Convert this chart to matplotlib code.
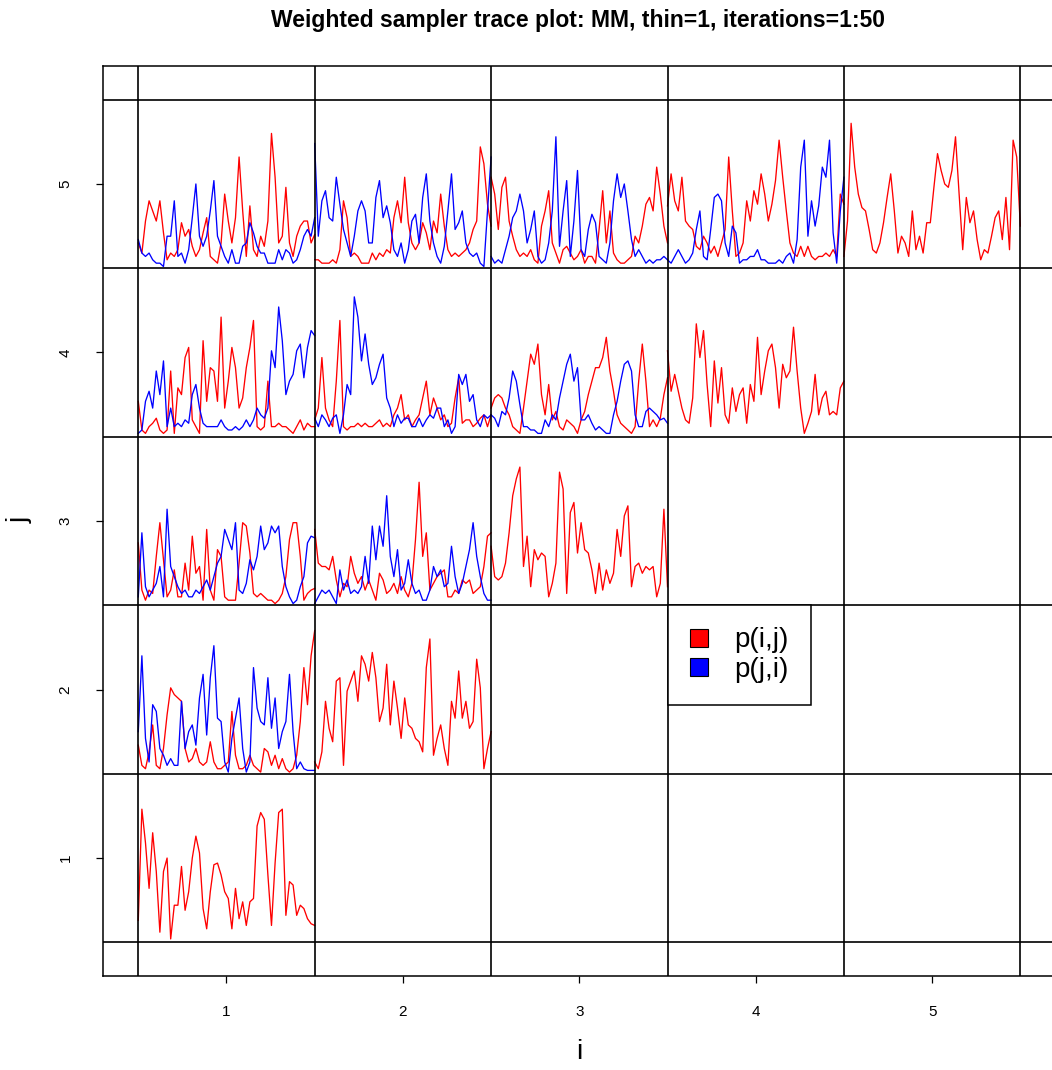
import matplotlib
matplotlib.use("Agg")
import matplotlib.pyplot as plt
from matplotlib.patches import Patch
import numpy as np

plt.rcParams['font.family'] = ['Liberation Sans', 'DejaVu Sans']

# --- data: 50 iterations per trace, value = height inside the cell (0..1)
# diagonal cells, p(i,i)
red_1_1 = [0.13, 0.79, 0.59, 0.32, 0.65, 0.42, 0.06, 0.42, 0.50, 0.02, 0.22, 0.22, 0.45, 0.19, 0.30, 0.50, 0.63,
           0.53, 0.20, 0.08, 0.30, 0.46, 0.47, 0.40, 0.30, 0.26, 0.08, 0.32, 0.14, 0.24, 0.10, 0.24, 0.26, 0.69,
           0.77, 0.73, 0.40, 0.10, 0.47, 0.77, 0.79, 0.16, 0.36, 0.34, 0.16, 0.22, 0.20, 0.14, 0.11, 0.10]
red_2_2 = [0.07, 0.03, 0.13, 0.43, 0.27, 0.19, 0.55, 0.57, 0.05, 0.49, 0.55, 0.61, 0.43, 0.70, 0.65, 0.55, 0.72,
           0.57, 0.31, 0.39, 0.65, 0.29, 0.55, 0.39, 0.21, 0.45, 0.29, 0.27, 0.21, 0.19, 0.13, 0.63, 0.80, 0.11,
           0.21, 0.29, 0.15, 0.05, 0.43, 0.33, 0.61, 0.33, 0.43, 0.27, 0.31, 0.68, 0.51, 0.03, 0.15, 0.25]
red_3_3 = [0.35, 0.17, 0.15, 0.17, 0.25, 0.43, 0.65, 0.75, 0.82, 0.23, 0.41, 0.11, 0.33, 0.27, 0.31, 0.29, 0.05,
           0.13, 0.25, 0.79, 0.69, 0.07, 0.55, 0.61, 0.31, 0.49, 0.33, 0.31, 0.21, 0.07, 0.25, 0.09, 0.21, 0.13,
           0.19, 0.45, 0.29, 0.53, 0.59, 0.11, 0.23, 0.25, 0.19, 0.23, 0.21, 0.23, 0.05, 0.13, 0.57, 0.11]
red_4_4 = [0.51, 0.27, 0.37, 0.27, 0.17, 0.10, 0.08, 0.23, 0.67, 0.47, 0.63, 0.31, 0.06, 0.45, 0.20, 0.41, 0.13,
           0.08, 0.29, 0.15, 0.25, 0.29, 0.08, 0.31, 0.21, 0.59, 0.25, 0.39, 0.51, 0.55, 0.41, 0.17, 0.43, 0.35,
           0.39, 0.65, 0.39, 0.17, 0.02, 0.08, 0.15, 0.37, 0.13, 0.23, 0.27, 0.13, 0.15, 0.13, 0.29, 0.33]
red_5_5 = [0.07, 0.28, 0.86, 0.60, 0.44, 0.36, 0.34, 0.23, 0.11, 0.09, 0.15, 0.27, 0.42, 0.56, 0.34, 0.09, 0.19,
           0.15, 0.07, 0.34, 0.11, 0.19, 0.09, 0.27, 0.27, 0.48, 0.68, 0.58, 0.50, 0.48, 0.58, 0.78, 0.44, 0.11,
           0.42, 0.27, 0.34, 0.17, 0.05, 0.11, 0.09, 0.19, 0.30, 0.34, 0.17, 0.42, 0.11, 0.76, 0.66, 0.25]

# off-diagonal cells: red = p(i,j), blue = p(j,i)
red_1_2 = [0.17, 0.05, 0.03, 0.13, 0.29, 0.05, 0.03, 0.15, 0.35, 0.51, 0.47, 0.45, 0.43, 0.15, 0.07, 0.09, 0.15,
           0.07, 0.05, 0.07, 0.19, 0.07, 0.03, 0.03, 0.05, 0.07, 0.37, 0.11, 0.03, 0.03, 0.05, 0.11, 0.05, 0.03,
           0.01, 0.15, 0.13, 0.05, 0.11, 0.03, 0.09, 0.03, 0.01, 0.03, 0.11, 0.31, 0.63, 0.41, 0.70, 0.85]
blue_1_2 = [0.25, 0.70, 0.21, 0.07, 0.41, 0.37, 0.15, 0.11, 0.05, 0.09, 0.05, 0.05, 0.43, 0.15, 0.25, 0.29, 0.17,
            0.45, 0.59, 0.23, 0.57, 0.76, 0.33, 0.31, 0.07, 0.01, 0.21, 0.33, 0.45, 0.15, 0.01, 0.07, 0.63, 0.39,
            0.31, 0.29, 0.57, 0.27, 0.45, 0.15, 0.25, 0.31, 0.59, 0.25, 0.03, 0.07, 0.03, 0.02, 0.02, 0.02]
red_1_3 = [0.37, 0.09, 0.03, 0.09, 0.07, 0.29, 0.49, 0.27, 0.05, 0.09, 0.21, 0.05, 0.05, 0.25, 0.09, 0.41, 0.19,
           0.23, 0.03, 0.45, 0.09, 0.03, 0.33, 0.29, 0.05, 0.03, 0.03, 0.03, 0.25, 0.49, 0.47, 0.31, 0.07, 0.05,
           0.07, 0.05, 0.03, 0.03, 0.01, 0.03, 0.07, 0.17, 0.39, 0.49, 0.49, 0.29, 0.03, 0.07, 0.09, 0.10]
blue_1_3 = [0.05, 0.43, 0.11, 0.05, 0.09, 0.13, 0.23, 0.05, 0.57, 0.23, 0.17, 0.11, 0.07, 0.09, 0.05, 0.05, 0.09,
            0.07, 0.11, 0.15, 0.09, 0.17, 0.25, 0.29, 0.45, 0.39, 0.33, 0.49, 0.09, 0.07, 0.13, 0.27, 0.21, 0.29,
            0.47, 0.33, 0.37, 0.47, 0.43, 0.47, 0.23, 0.11, 0.05, 0.01, 0.03, 0.11, 0.17, 0.37, 0.41, 0.40]
red_2_3 = [0.45, 0.25, 0.23, 0.23, 0.21, 0.29, 0.15, 0.05, 0.13, 0.11, 0.29, 0.19, 0.13, 0.17, 0.09, 0.15, 0.09,
           0.03, 0.19, 0.15, 0.07, 0.09, 0.13, 0.07, 0.17, 0.09, 0.05, 0.13, 0.39, 0.73, 0.29, 0.43, 0.09, 0.13,
           0.17, 0.19, 0.21, 0.05, 0.05, 0.09, 0.07, 0.15, 0.13, 0.15, 0.07, 0.09, 0.11, 0.23, 0.41, 0.43]
blue_2_3 = [0.01, 0.05, 0.09, 0.07, 0.09, 0.05, 0.01, 0.21, 0.09, 0.15, 0.07, 0.09, 0.07, 0.11, 0.29, 0.13, 0.47,
            0.27, 0.47, 0.35, 0.65, 0.29, 0.17, 0.33, 0.09, 0.13, 0.27, 0.13, 0.07, 0.09, 0.03, 0.03, 0.09, 0.23,
            0.17, 0.21, 0.11, 0.13, 0.35, 0.17, 0.07, 0.13, 0.23, 0.33, 0.49, 0.29, 0.17, 0.07, 0.03, 0.03]
red_1_4 = [0.21, 0.04, 0.02, 0.06, 0.08, 0.11, 0.04, 0.02, 0.04, 0.39, 0.02, 0.29, 0.25, 0.47, 0.53, 0.10, 0.06,
           0.02, 0.57, 0.21, 0.41, 0.39, 0.21, 0.71, 0.17, 0.33, 0.53, 0.41, 0.17, 0.23, 0.41, 0.53, 0.69, 0.06,
           0.04, 0.06, 0.33, 0.06, 0.06, 0.08, 0.06, 0.06, 0.04, 0.02, 0.06, 0.10, 0.04, 0.08, 0.06, 0.06]
blue_1_4 = [0.02, 0.04, 0.21, 0.27, 0.17, 0.39, 0.25, 0.45, 0.06, 0.17, 0.06, 0.08, 0.06, 0.10, 0.08, 0.25, 0.31,
            0.17, 0.08, 0.06, 0.06, 0.06, 0.06, 0.10, 0.06, 0.04, 0.04, 0.06, 0.04, 0.06, 0.10, 0.06, 0.10, 0.17,
            0.13, 0.11, 0.17, 0.51, 0.41, 0.77, 0.57, 0.25, 0.33, 0.37, 0.51, 0.55, 0.35, 0.53, 0.63, 0.60]
red_2_4 = [0.10, 0.17, 0.47, 0.17, 0.10, 0.06, 0.33, 0.69, 0.06, 0.04, 0.06, 0.06, 0.08, 0.06, 0.08, 0.06, 0.06,
           0.08, 0.10, 0.06, 0.08, 0.06, 0.13, 0.17, 0.25, 0.10, 0.13, 0.06, 0.10, 0.13, 0.23, 0.33, 0.13, 0.23,
           0.17, 0.10, 0.13, 0.06, 0.08, 0.23, 0.35, 0.08, 0.10, 0.10, 0.06, 0.08, 0.11, 0.13, 0.06, 0.13]
blue_2_4 = [0.11, 0.06, 0.13, 0.10, 0.06, 0.11, 0.13, 0.02, 0.13, 0.31, 0.25, 0.83, 0.71, 0.45, 0.61, 0.43, 0.31,
            0.35, 0.43, 0.49, 0.23, 0.17, 0.06, 0.13, 0.08, 0.11, 0.11, 0.06, 0.06, 0.11, 0.06, 0.10, 0.13, 0.11,
            0.17, 0.17, 0.06, 0.10, 0.02, 0.06, 0.37, 0.31, 0.37, 0.21, 0.25, 0.10, 0.06, 0.13, 0.11, 0.13]
red_3_4 = [0.17, 0.23, 0.25, 0.23, 0.17, 0.13, 0.06, 0.04, 0.02, 0.17, 0.33, 0.49, 0.43, 0.55, 0.25, 0.13, 0.31,
           0.10, 0.15, 0.06, 0.04, 0.10, 0.08, 0.06, 0.02, 0.10, 0.15, 0.25, 0.33, 0.41, 0.41, 0.47, 0.59, 0.39,
           0.27, 0.13, 0.08, 0.06, 0.04, 0.02, 0.06, 0.33, 0.55, 0.33, 0.06, 0.10, 0.06, 0.11, 0.25, 0.35]
blue_3_4 = [0.13, 0.11, 0.06, 0.15, 0.13, 0.23, 0.39, 0.33, 0.19, 0.06, 0.06, 0.04, 0.04, 0.02, 0.02, 0.10, 0.06,
            0.13, 0.10, 0.23, 0.33, 0.43, 0.49, 0.33, 0.41, 0.10, 0.10, 0.13, 0.08, 0.04, 0.06, 0.04, 0.02, 0.02,
            0.13, 0.21, 0.33, 0.43, 0.45, 0.39, 0.13, 0.06, 0.06, 0.15, 0.17, 0.15, 0.13, 0.10, 0.11, 0.08]
red_1_5 = [0.15, 0.09, 0.28, 0.40, 0.34, 0.28, 0.40, 0.21, 0.05, 0.09, 0.07, 0.11, 0.27, 0.19, 0.23, 0.13, 0.07,
           0.11, 0.21, 0.30, 0.07, 0.05, 0.03, 0.15, 0.44, 0.28, 0.15, 0.30, 0.66, 0.34, 0.07, 0.37, 0.11, 0.07,
           0.19, 0.13, 0.28, 0.80, 0.54, 0.15, 0.19, 0.48, 0.15, 0.07, 0.19, 0.25, 0.28, 0.28, 0.15, 0.20]
blue_1_5 = [0.17, 0.09, 0.07, 0.09, 0.05, 0.03, 0.03, 0.01, 0.19, 0.19, 0.40, 0.07, 0.09, 0.03, 0.11, 0.30, 0.50,
            0.19, 0.13, 0.19, 0.34, 0.52, 0.19, 0.13, 0.07, 0.03, 0.11, 0.03, 0.03, 0.13, 0.15, 0.27, 0.21, 0.13,
            0.09, 0.09, 0.03, 0.03, 0.03, 0.11, 0.05, 0.11, 0.09, 0.03, 0.05, 0.11, 0.19, 0.23, 0.19, 0.30]
red_2_5 = [0.05, 0.05, 0.03, 0.03, 0.03, 0.05, 0.03, 0.11, 0.40, 0.30, 0.07, 0.09, 0.07, 0.03, 0.03, 0.03, 0.09,
           0.05, 0.09, 0.07, 0.11, 0.09, 0.30, 0.40, 0.27, 0.54, 0.27, 0.15, 0.11, 0.15, 0.27, 0.21, 0.11, 0.28,
           0.21, 0.44, 0.25, 0.11, 0.07, 0.09, 0.07, 0.09, 0.11, 0.15, 0.23, 0.28, 0.72, 0.62, 0.38, 0.25]
blue_2_5 = [0.74, 0.19, 0.40, 0.46, 0.30, 0.28, 0.54, 0.38, 0.23, 0.15, 0.07, 0.19, 0.34, 0.40, 0.34, 0.15, 0.15,
            0.42, 0.52, 0.30, 0.37, 0.27, 0.11, 0.07, 0.15, 0.03, 0.11, 0.28, 0.32, 0.15, 0.42, 0.56, 0.28, 0.15,
            0.07, 0.03, 0.13, 0.34, 0.56, 0.23, 0.27, 0.34, 0.15, 0.09, 0.07, 0.09, 0.03, 0.01, 0.34, 0.66]
red_3_5 = [0.54, 0.44, 0.23, 0.48, 0.54, 0.28, 0.19, 0.11, 0.07, 0.09, 0.07, 0.11, 0.05, 0.03, 0.25, 0.34, 0.46,
           0.15, 0.09, 0.03, 0.11, 0.13, 0.09, 0.05, 0.07, 0.11, 0.03, 0.07, 0.07, 0.03, 0.23, 0.46, 0.15, 0.34,
           0.09, 0.05, 0.03, 0.03, 0.05, 0.07, 0.19, 0.15, 0.25, 0.38, 0.42, 0.34, 0.60, 0.44, 0.25, 0.15]
blue_3_5 = [0.07, 0.03, 0.05, 0.03, 0.11, 0.19, 0.30, 0.34, 0.44, 0.34, 0.15, 0.23, 0.34, 0.07, 0.03, 0.05, 0.15,
            0.34, 0.78, 0.13, 0.34, 0.52, 0.07, 0.28, 0.58, 0.11, 0.07, 0.23, 0.32, 0.27, 0.07, 0.05, 0.03, 0.15,
            0.40, 0.56, 0.42, 0.50, 0.34, 0.17, 0.07, 0.11, 0.07, 0.03, 0.05, 0.03, 0.05, 0.05, 0.07, 0.05]
red_4_5 = [0.37, 0.56, 0.40, 0.34, 0.54, 0.28, 0.25, 0.23, 0.13, 0.11, 0.19, 0.15, 0.09, 0.13, 0.07, 0.15, 0.23,
           0.66, 0.34, 0.07, 0.09, 0.15, 0.40, 0.28, 0.46, 0.38, 0.56, 0.44, 0.28, 0.38, 0.52, 0.76, 0.54, 0.34,
           0.15, 0.09, 0.07, 0.13, 0.07, 0.13, 0.07, 0.05, 0.07, 0.07, 0.09, 0.07, 0.11, 0.07, 0.44, 0.38]
blue_4_5 = [0.05, 0.03, 0.07, 0.11, 0.07, 0.03, 0.05, 0.09, 0.23, 0.34, 0.07, 0.05, 0.23, 0.42, 0.44, 0.40, 0.15,
            0.07, 0.25, 0.21, 0.03, 0.05, 0.05, 0.07, 0.07, 0.11, 0.05, 0.05, 0.03, 0.03, 0.03, 0.05, 0.03, 0.07,
            0.09, 0.03, 0.17, 0.60, 0.76, 0.19, 0.40, 0.25, 0.37, 0.60, 0.54, 0.76, 0.21, 0.03, 0.34, 0.54]

ticks = [1, 2, 3, 4, 5]
legend_labels = ['p(i,j)', 'p(j,i)']

# (i, j, values, colour)
traces = [
    (1, 1, red_1_1, 'red'), (2, 2, red_2_2, 'red'), (3, 3, red_3_3, 'red'),
    (4, 4, red_4_4, 'red'), (5, 5, red_5_5, 'red'),
    (1, 2, red_1_2, 'red'), (1, 2, blue_1_2, 'blue'),
    (1, 3, red_1_3, 'red'), (1, 3, blue_1_3, 'blue'),
    (2, 3, red_2_3, 'red'), (2, 3, blue_2_3, 'blue'),
    (1, 4, red_1_4, 'red'), (1, 4, blue_1_4, 'blue'),
    (2, 4, red_2_4, 'red'), (2, 4, blue_2_4, 'blue'),
    (3, 4, red_3_4, 'red'), (3, 4, blue_3_4, 'blue'),
    (1, 5, red_1_5, 'red'), (1, 5, blue_1_5, 'blue'),
    (2, 5, red_2_5, 'red'), (2, 5, blue_2_5, 'blue'),
    (3, 5, red_3_5, 'red'), (3, 5, blue_3_5, 'blue'),
    (4, 5, red_4_5, 'red'), (4, 5, blue_4_5, 'blue'),
]

# --- plot
W, H = 1052, 1070
fig = plt.figure(figsize=(W / 100, H / 100), dpi=100)
ax = fig.add_axes([103 / W, 1 - 976 / H, 952.6 / W, 910 / H])

for i, j, vals, col in traces:
    vals = np.array(vals)
    xs = np.linspace(i - 0.5, i + 0.5, len(vals))
    ax.plot(xs, j - 0.5 + vals, color=col, lw=0.95)

# cell grid
for k in np.arange(0.5, 6.0, 1.0):
    ax.axhline(k, color='black', lw=1.2, zorder=3)
    ax.axvline(k, color='black', lw=1.2, zorder=3)

ax.set_xlim(0.3, 5.7)
ax.set_ylim(0.3, 5.7)
ax.set_xticks(ticks)
ax.set_yticks(ticks)
ax.set_xticklabels([str(t) for t in ticks], fontsize=11)
ax.set_yticklabels([str(t) for t in ticks], fontsize=11, rotation=90, va='center')
ax.tick_params(axis='x', direction='out', length=5, width=0.9, pad=16)
ax.tick_params(axis='y', direction='out', length=5, width=0.9, pad=17)
for sp in ax.spines.values():
    sp.set_linewidth(1.1)

handles = [Patch(facecolor='red', edgecolor='black', lw=0.8),
           Patch(facecolor='blue', edgecolor='black', lw=0.8)]
leg = ax.legend(handles, legend_labels, loc='upper left', bbox_to_anchor=(3.5, 2.5),
                bbox_transform=ax.transData, borderaxespad=0, fontsize=20, fancybox=False,
                framealpha=1, edgecolor='black', handlelength=0.65, handleheight=0.62,
                handletextpad=0.95, labelspacing=0.12, borderpad=0.8)
leg.get_frame().set_linewidth(1.1)
leg.set_zorder(5)

fig.text(578 / W, 1 - 20 / H, 'Weighted sampler trace plot: MM, thin=1, iterations=1:50',
         ha='center', va='center', fontsize=16.5, fontweight='bold')
fig.text(579 / W, 1 - 1052 / H, 'i', ha='center', va='center', fontsize=20)
fig.text(20 / W, 1 - 520 / H, 'j', ha='center', va='center', fontsize=20, rotation=90)

fig.savefig('out.png', dpi=100)
